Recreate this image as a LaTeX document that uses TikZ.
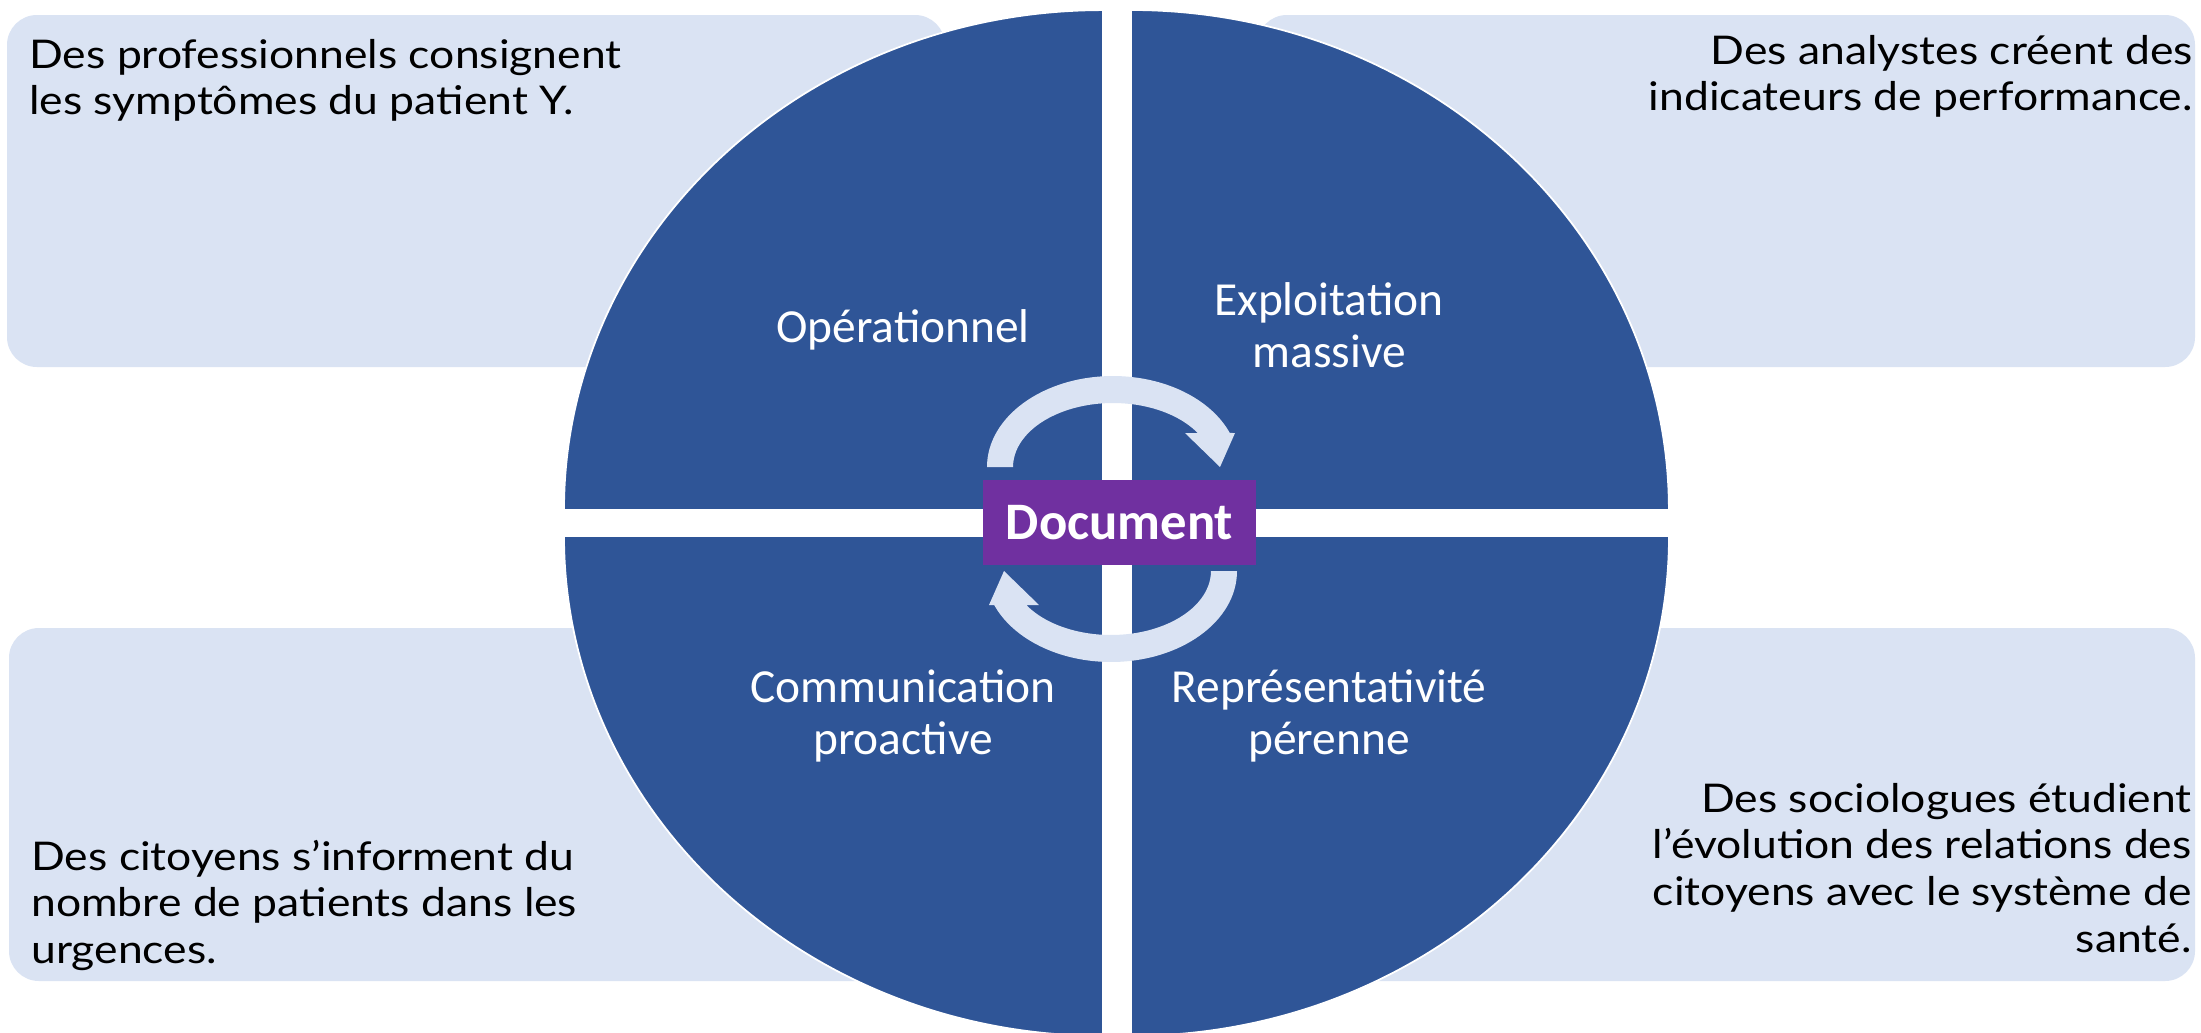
\documentclass[tikz,border=0pt]{standalone}
\usepackage{fontspec}
\setmainfont{Lato}[FakeStretch=1.125]
\newfontfamily\calib{Carlito}
\definecolor{qblue}{HTML}{2F5597}
\definecolor{lightbox}{HTML}{DAE3F3}
\definecolor{docpurple}{HTML}{7030A0}
\begin{document}
\begin{tikzpicture}[x=0.02cm,y=0.02cm,
  infobox/.style={fill=lightbox, rounded corners=0.6cm},
  quad/.style={fill=qblue, draw=white, line width=1pt},
  boxtext/.style={inner sep=0pt, text=black, font=\fontsize{22.5}{26.5}\selectfont},
  quadlabel/.style={inner sep=0pt, align=center, text=white, anchor=north, font=\calib\fontsize{27}{29.5}\selectfont},
  cyclearrow/.style={fill=lightbox}]
\useasboundingbox (0,0) rectangle (2201,-1032);
\fill[white] (0,0) rectangle (2201,-1032);
% text boxes
\fill[infobox] (7,-15) rectangle (945,-367);
\fill[infobox] (1257,-15) rectangle (2195,-367);
\fill[infobox] (9,-628) rectangle (945,-981);
\fill[infobox] (1257,-628) rectangle (2195,-981);
% quadrants
\filldraw[quad] (1103,-510) -- (564,-510) arc[start angle=180, end angle=90, x radius=10.78cm, y radius=10cm] -- cycle;
\filldraw[quad] (1131,-510) -- (1131,-10) arc[start angle=90, end angle=0, x radius=10.76cm, y radius=10cm] -- cycle;
\filldraw[quad] (1103,-536) -- (564,-536) arc[start angle=180, end angle=270, x radius=10.78cm, y radius=10cm] -- cycle;
\filldraw[quad] (1131,-536) -- (1669,-536) arc[start angle=0, end angle=-90, x radius=10.76cm, y radius=10cm] -- cycle;
% cycle arrows
\fill[cyclearrow] (1013,-467) -- (987,-467) arc[start angle=180, end angle=21.96, x radius=2.52cm, y radius=1.82cm] -- (1235,-433) -- (1220,-467) -- (1185,-433) -- (1197.7,-433) arc[start angle=32.1, end angle=180, x radius=2cm, y radius=1.28cm] -- cycle;
\begin{scope}[rotate around={180:(1112,-519)}]
\fill[cyclearrow] (1013,-467) -- (987,-467) arc[start angle=180, end angle=21.96, x radius=2.52cm, y radius=1.82cm] -- (1235,-433) -- (1220,-467) -- (1185,-433) -- (1197.7,-433) arc[start angle=32.1, end angle=180, x radius=2cm, y radius=1.28cm] -- cycle;
\end{scope}
% centre
\node[fill=docpurple, minimum width=5.46cm, minimum height=1.7cm, inner sep=0pt, text=white, font=\calib\bfseries\fontsize{30}{36}\selectfont] (doc) at (1119.5,-522.5) {Document};
% quadrant labels
\node[quadlabel] (op) at (903,-294.6) {\rule{0pt}{1em}Opérationnel};
\node[quadlabel] (ex) at (1329,-267.6) {\rule{0pt}{1em}Exploitation\\massive};
\node[quadlabel] (co) at (903,-654.6) {\rule{0pt}{1em}Communication\\proactive};
\node[quadlabel] (re) at (1329,-654.6) {\rule{0pt}{1em}Représentativité\\pérenne};
% box texts
\node[boxtext, anchor=north west, align=left] (tl) at (29,-28.5) {\rule{0pt}{1em}Des professionnels consignent\\les symptômes du patient Y.};
\node[boxtext, anchor=north east, align=right] (tr) at (2193,-24.5) {\rule{0pt}{1em}Des analystes créent des\\indicateurs de performance.};
\node[boxtext, anchor=north west, align=left] (bl) at (31,-830.5) {\rule{0pt}{1em}Des citoyens s’informent du\\nombre de patients dans les\\urgences.};
\node[boxtext, anchor=north east, align=right] (br) at (2192,-772.5) {\rule{0pt}{1em}Des sociologues étudient\\l’évolution des relations des\\citoyens avec le système de\\santé.};
\end{tikzpicture}
\end{document}
